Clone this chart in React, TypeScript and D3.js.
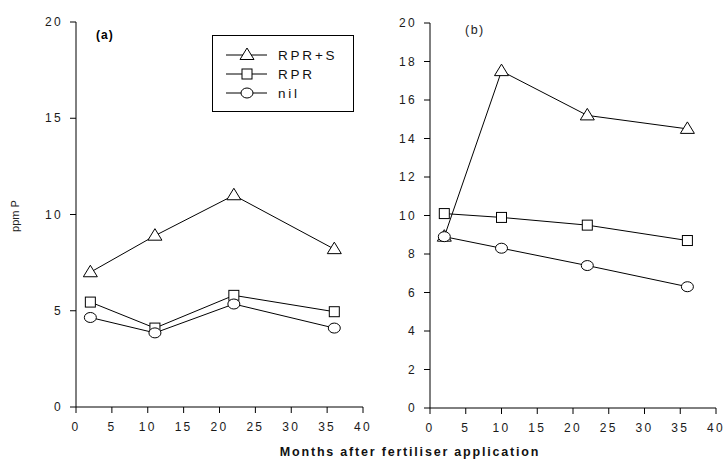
import React from "react";
import * as d3 from "d3";

// months after application
const monthsA = [2, 11, 22, 36];
const monthsB = [2, 10, 22, 36];

// panel (a) ppm P
const rprsA = [7.0, 8.9, 11.0, 8.2];
const rprA = [5.45, 4.1, 5.8, 4.95];
const nilA = [4.65, 3.85, 5.35, 4.1];

// panel (b) ppm P
const rprsB = [8.9, 17.5, 15.2, 14.5];
const rprB = [10.1, 9.9, 9.5, 8.7];
const nilB = [8.9, 8.3, 7.4, 6.3];

const seriesNames = ["RPR+S", "RPR", "nil"];
const markers = ["triangle", "square", "circle"];

const xTicks = [0, 5, 10, 15, 20, 25, 30, 35, 40];
const yTicksA = [0, 5, 10, 15, 20];
const yTicksB = [0, 2, 4, 6, 8, 10, 12, 14, 16, 18, 20];

const FONT = "Arial, 'Liberation Sans', sans-serif";

const Marker = ({ type, x, y }: { type: string; x: number; y: number }) => {
  if (type === "triangle") {
    const p = `M${x},${y - 7} L${x + 7},${y + 4.5} L${x - 7},${y + 4.5} Z`;
    return <path d={p} fill="#fff" stroke="#000" strokeWidth={1} />;
  }
  if (type === "square") {
    return <rect x={x - 5} y={y - 5} width={10} height={10} fill="#fff" stroke="#000" strokeWidth={1} />;
  }
  return <ellipse cx={x} cy={y} rx={6} ry={5} fill="#fff" stroke="#000" strokeWidth={1} />;
};

const Panel = ({ left, right, top, bottom, months, series, yTicks }: any) => {
  const x = d3.scaleLinear().domain([0, 40]).range([left, right]);
  const y = d3.scaleLinear().domain([0, 20]).range([bottom, top]);
  const line = d3
    .line<number>()
    .x((_, i) => x(months[i]))
    .y((d) => y(d));
  return (
    <g>
      {series.map((vals: number[], si: number) => (
        <path key={"l" + si} d={line(vals) || ""} fill="none" stroke="#000" strokeWidth={1} />
      ))}
      {series.map((vals: number[], si: number) =>
        vals.map((v, i) => <Marker key={si + "-" + i} type={markers[si]} x={x(months[i])} y={y(v)} />)
      )}
      <line x1={left} x2={left} y1={top} y2={bottom} stroke="#000" />
      <line x1={left} x2={right} y1={bottom} y2={bottom} stroke="#000" />
      {yTicks.map((t: number) => (
        <g key={"y" + t}>
          <line x1={left - 6} x2={left} y1={y(t)} y2={y(t)} stroke="#000" />
          <text
            x={left - 13}
            y={y(t)}
            dy="0.35em"
            textAnchor="end"
            fontSize={12}
            letterSpacing={2.3}
            fill="#1a1a1a"
            fontFamily={FONT}
          >
            {t}
          </text>
        </g>
      ))}
      {xTicks.map((t) => (
        <g key={"x" + t}>
          <line x1={x(t)} x2={x(t)} y1={bottom} y2={bottom + 6} stroke="#000" />
          <text
            x={x(t)}
            y={bottom + 24}
            textAnchor="middle"
            fontSize={12}
            letterSpacing={2.3}
            fill="#1a1a1a"
            fontFamily={FONT}
          >
            {t}
          </text>
        </g>
      ))}
    </g>
  );
};

const App = () => {
  const legendRows = [55, 74, 93];
  return (
    <svg
      width={726}
      height={460}
      style={{ position: "absolute", left: 0, top: 0, background: "#fff" }}
    >
      <rect width={726} height={460} fill="#fff" />
      <Panel
        left={76}
        right={363}
        top={22}
        bottom={407}
        months={monthsA}
        series={[rprsA, rprA, nilA]}
        yTicks={yTicksA}
      />
      <Panel
        left={430}
        right={716}
        top={23}
        bottom={408}
        months={monthsB}
        series={[rprsB, rprB, nilB]}
        yTicks={yTicksB}
      />
      <text x={96} y={39} fontSize={12} fontWeight="bold" letterSpacing={1} fontFamily={FONT}>
        (a)
      </text>
      <text x={465} y={34} fontSize={12.5} letterSpacing={1.5} fill="#222" fontFamily={FONT}>
        (b)
      </text>
      {/* legend */}
      <rect x={212.5} y={35.5} width={141} height={76} fill="#fff" stroke="#000" />
      {seriesNames.map((name, i) => (
        <g key={name}>
          <line x1={226} x2={267} y1={legendRows[i]} y2={legendRows[i]} stroke="#000" />
          <Marker type={markers[i]} x={247} y={legendRows[i]} />
          <text
            x={278}
            y={legendRows[i]}
            dy="0.35em"
            fontSize={13.5}
            letterSpacing={2.8}
            fill="#111"
            fontFamily={FONT}
          >
            {name}
          </text>
        </g>
      ))}
      <text
        transform="translate(19,216) rotate(-90)"
        textAnchor="middle"
        fontSize={11}
        fill="#222"
        fontFamily={FONT}
      >
        ppm P
      </text>
      <text
        x={410}
        y={456}
        textAnchor="middle"
        fontSize={12.5}
        fontWeight="bold"
        letterSpacing={1.8}
        fill="#111"
        fontFamily={FONT}
      >
        Months after fertiliser application
      </text>
    </svg>
  );
};

export default App;
